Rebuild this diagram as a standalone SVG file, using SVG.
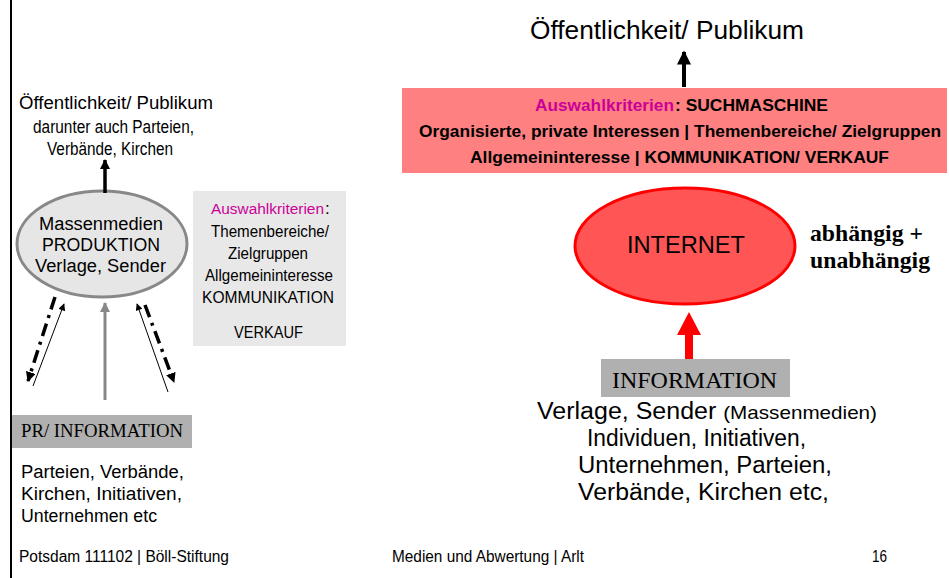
<svg xmlns="http://www.w3.org/2000/svg" width="949" height="578" viewBox="0 0 949 578">
  <style>
    .sans { font-family: "Liberation Sans", Arial, sans-serif; fill: #000; }
    .serif { font-family: "Liberation Serif", "Times New Roman", serif; fill: #000; }
    .magenta { fill: #cc0099; }
    .dashdot { stroke: #000; stroke-width: 3.5; fill: none; stroke-dasharray: 13 6 3 6; }
    .thin { stroke: #000; stroke-width: 1; fill: none; }
  </style>
  <defs>
    <marker id="headBlack" viewBox="0 0 10 10" refX="9" refY="5" markerWidth="10" markerHeight="10" markerUnits="userSpaceOnUse" orient="auto">
      <path d="M0,0 L10,5 L0,10 z" fill="#000"/>
    </marker>
    <marker id="headUp" viewBox="0 0 10 10" refX="9" refY="5" markerWidth="15" markerHeight="14" markerUnits="userSpaceOnUse" orient="auto">
      <path d="M0,0 L10,5 L0,10 z" fill="#000"/>
    </marker>
    <marker id="headThin" viewBox="0 0 10 10" refX="9" refY="5" markerWidth="9" markerHeight="7" markerUnits="userSpaceOnUse" orient="auto">
      <path d="M0,0 L10,5 L0,10 z" fill="#000"/>
    </marker>
    <marker id="headGray" viewBox="0 0 10 10" refX="9" refY="5" markerWidth="12" markerHeight="10" markerUnits="userSpaceOnUse" orient="auto">
      <path d="M0,0 L10,5 L0,10 z" fill="#888"/>
    </marker>
  </defs>

  <rect width="949" height="578" fill="#fff"/>
  <!-- left margin rule -->
  <line x1="11" y1="0" x2="11" y2="578" stroke="#000" stroke-width="2"/>

  <!-- left: audience -->
  <g id="publikum-links">
    <text class="sans" x="19" y="109" font-size="18" textLength="194" lengthAdjust="spacingAndGlyphs">Öffentlichkeit/ Publikum</text>
    <text class="sans" x="33" y="133" font-size="17.5" textLength="161" lengthAdjust="spacingAndGlyphs">darunter auch Parteien,</text>
    <text class="sans" x="47" y="155" font-size="17.5" textLength="126" lengthAdjust="spacingAndGlyphs">Verbände, Kirchen</text>
  </g>

  <!-- left: mass media -->
  <g id="massenmedien">
    <ellipse cx="102" cy="244" rx="85" ry="53" fill="#e6e6e6" stroke="#888" stroke-width="3"/>
    <text class="sans" x="39" y="230" font-size="18" textLength="124" lengthAdjust="spacingAndGlyphs">Massenmedien</text>
    <text class="sans" x="42" y="251" font-size="18" textLength="118" lengthAdjust="spacingAndGlyphs">PRODUKTION</text>
    <text class="sans" x="35" y="272" font-size="18" textLength="131" lengthAdjust="spacingAndGlyphs">Verlage, Sender</text>
  </g>

  <!-- left: selection criteria -->
  <g id="kriterien-links">
    <rect x="193" y="191" width="153" height="155" fill="#e8e8e8"/>
    <text class="sans magenta" x="211" y="214" font-size="15.4" textLength="113" lengthAdjust="spacingAndGlyphs">Auswahlkriterien</text>
    <text class="sans" x="325" y="214" font-size="17">:</text>
    <text class="sans" x="211" y="237" font-size="17" textLength="118" lengthAdjust="spacingAndGlyphs">Themenbereiche/</text>
    <text class="sans" x="228" y="259" font-size="17" textLength="80" lengthAdjust="spacingAndGlyphs">Zielgruppen</text>
    <text class="sans" x="205" y="281" font-size="17" textLength="128" lengthAdjust="spacingAndGlyphs">Allgemeininteresse</text>
    <text class="sans" x="202" y="303" font-size="17" textLength="132" lengthAdjust="spacingAndGlyphs">KOMMUNIKATION</text>
    <text class="sans" x="234" y="338" font-size="17" textLength="69" lengthAdjust="spacingAndGlyphs">VERKAUF</text>
  </g>

  <!-- left: PR sources -->
  <g id="pr-information">
    <rect x="12" y="415" width="180" height="33" fill="#b0b0b0"/>
    <text class="serif" x="21" y="437" font-size="18" textLength="162" lengthAdjust="spacingAndGlyphs">PR/ INFORMATION</text>
    <text class="sans" x="21" y="478" font-size="18" textLength="163" lengthAdjust="spacingAndGlyphs">Parteien, Verbände,</text>
    <text class="sans" x="21" y="500" font-size="18" textLength="161" lengthAdjust="spacingAndGlyphs">Kirchen, Initiativen,</text>
    <text class="sans" x="21" y="522" font-size="18" textLength="136" lengthAdjust="spacingAndGlyphs">Unternehmen etc</text>
  </g>

  <!-- right: audience -->
  <g id="publikum-rechts">
    <text class="sans" x="530" y="39" font-size="26" textLength="274" lengthAdjust="spacingAndGlyphs">Öffentlichkeit/ Publikum</text>
  </g>

  <!-- right: search engine criteria -->
  <g id="kriterien-rechts">
    <rect x="402" y="88" width="545" height="85" fill="#ff8080"/>
    <text class="sans magenta" x="535" y="111" font-size="17.4" font-weight="bold" textLength="139" lengthAdjust="spacingAndGlyphs">Auswahlkriterien</text>
    <text class="sans" x="675" y="111" font-size="17.4" font-weight="bold" textLength="153" lengthAdjust="spacingAndGlyphs">: SUCHMASCHINE</text>
    <text class="sans" x="419" y="137" font-size="17.4" font-weight="bold" textLength="522" lengthAdjust="spacingAndGlyphs">Organisierte, private Interessen | Themenbereiche/ Zielgruppen</text>
    <text class="sans" x="470" y="163" font-size="17.4" font-weight="bold" textLength="419" lengthAdjust="spacingAndGlyphs">Allgemeininteresse | KOMMUNIKATION/ VERKAUF</text>
  </g>

  <!-- right: internet -->
  <g id="internet">
    <ellipse cx="685" cy="246" rx="110" ry="58" fill="#ff5555" stroke="#ff0000" stroke-width="3"/>
    <text class="sans" x="627" y="253" font-size="24" textLength="118" lengthAdjust="spacingAndGlyphs">INTERNET</text>
  </g>

  <g id="abhaengigkeit">
    <text class="serif" x="810" y="241" font-size="23" font-weight="bold" textLength="113" lengthAdjust="spacingAndGlyphs">abhängig +</text>
    <text class="serif" x="810" y="268" font-size="23" font-weight="bold" textLength="120" lengthAdjust="spacingAndGlyphs">unabhängig</text>
  </g>

  <!-- right: information sources -->
  <g id="information">
    <rect x="601" y="359" width="189" height="38" fill="#b0b0b0"/>
    <text class="serif" x="612" y="388" font-size="23" textLength="165" lengthAdjust="spacingAndGlyphs">INFORMATION</text>
    <text class="sans" x="537" y="419" font-size="23" textLength="340" lengthAdjust="spacingAndGlyphs">Verlage, Sender <tspan font-size="19">(Massenmedien)</tspan></text>
    <text class="sans" x="587" y="446" font-size="23" textLength="219" lengthAdjust="spacingAndGlyphs">Individuen, Initiativen,</text>
    <text class="sans" x="578" y="473" font-size="23" textLength="254" lengthAdjust="spacingAndGlyphs">Unternehmen, Parteien,</text>
    <text class="sans" x="578" y="500" font-size="23" textLength="251" lengthAdjust="spacingAndGlyphs">Verbände, Kirchen etc,</text>
  </g>

  <!-- footer -->
  <g id="fusszeile">
    <text class="sans" x="19" y="562" font-size="16" textLength="210" lengthAdjust="spacingAndGlyphs">Potsdam 111102 | Böll-Stiftung</text>
    <text class="sans" x="392" y="562" font-size="16" textLength="192" lengthAdjust="spacingAndGlyphs">Medien und Abwertung | Arlt</text>
    <text class="sans" x="872" y="562" font-size="16" textLength="15" lengthAdjust="spacingAndGlyphs">16</text>
  </g>

  <!-- connectors -->
  <g id="connectors">
    <!-- mass media up to audience -->
    <line x1="105" y1="193" x2="105" y2="160" stroke="#000" stroke-width="3.5" marker-end="url(#headBlack)"/>
    <!-- PR sources into mass media -->
    <line x1="105" y1="400" x2="105" y2="303" stroke="#888" stroke-width="3" marker-end="url(#headGray)"/>
    <line class="dashdot" x1="55" y1="297" x2="28" y2="381" marker-end="url(#headBlack)"/>
    <line class="thin" x1="33" y1="386" x2="64" y2="304" marker-end="url(#headThin)"/>
    <line class="thin" x1="168" y1="392" x2="137" y2="304" marker-end="url(#headThin)"/>
    <line class="dashdot" x1="145" y1="305" x2="174" y2="382" marker-end="url(#headBlack)"/>
    <!-- search engine up to audience -->
    <line x1="684" y1="87" x2="684" y2="52" stroke="#000" stroke-width="4" marker-end="url(#headUp)"/>
    <!-- information up to internet -->
    <path d="M685,359 L685,335 L677,335 L689,312 L701,335 L693,335 L693,359 z" fill="#ff0000"/>
  </g>
</svg>
